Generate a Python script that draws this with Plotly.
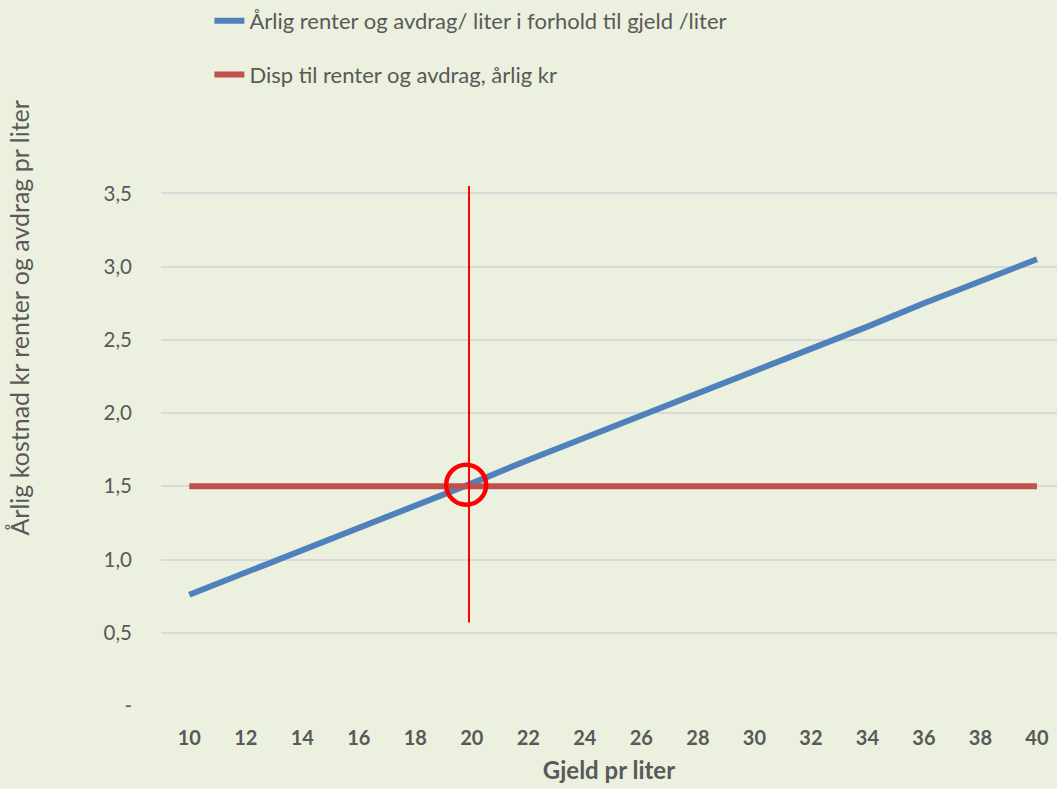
import plotly.graph_objects as go

# ---- data ----
gjeld = [10, 12, 14, 16, 18, 20, 22, 24, 26, 28, 30, 32, 34, 36, 38, 40]
aarlig_renter_avdrag = [0.76, 0.91, 1.07, 1.22, 1.37, 1.52, 1.68, 1.83, 1.98, 2.14,
                        2.29, 2.44, 2.59, 2.75, 2.90, 3.05]
disp_renter_avdrag = [1.5] * len(gjeld)

name_blue = "Årlig renter og avdrag/ liter i forhold til gjeld /liter"
name_red = "Disp til renter og avdrag, årlig kr"

y_tickvals = [0, 0.5, 1.0, 1.5, 2.0, 2.5, 3.0, 3.5]
y_ticktext = ["-", "0,5", "1,0", "1,5", "2,0", "2,5", "3,0", "3,5"]

# highlight (break-even) marks
vline_x = 19.9
vline_y = [0.57, 3.55]
circle_x = 19.8
circle_y = 1.51

BG = "#EBF1DE"
TXT = "#595959"
FONT = "Lato"

fig = go.Figure()
fig.add_trace(go.Scatter(x=gjeld, y=aarlig_renter_avdrag, mode="lines", name=name_blue,
                         line=dict(color="#4F81BD", width=6), legend="legend"))
fig.add_trace(go.Scatter(x=gjeld, y=disp_renter_avdrag, mode="lines", name=name_red,
                         line=dict(color="#C0504D", width=6), legend="legend2"))
fig.add_trace(go.Scatter(x=[vline_x, vline_x], y=vline_y, mode="lines", showlegend=False,
                         line=dict(color="#FF0000", width=2), hoverinfo="skip"))
fig.add_trace(go.Scatter(x=[circle_x], y=[circle_y], mode="markers", showlegend=False,
                         marker=dict(symbol="circle-open", size=40, color="#FF0000",
                                     line=dict(color="#FF0000", width=4.5)),
                         hoverinfo="skip"))

fig.update_layout(
    width=1057, height=789,
    paper_bgcolor=BG, plot_bgcolor=BG,
    margin=dict(l=161, r=0, t=186, b=83),
    font=dict(family=FONT, color=TXT, size=20),
    legend=dict(x=0.054, y=1.0, yref="container", xref="paper", xanchor="left", yanchor="top",
                bgcolor="rgba(0,0,0,0)", font=dict(size=22, color=TXT)),
    legend2=dict(x=0.054, y=0.932, yref="container", xref="paper", xanchor="left", yanchor="top",
                 bgcolor="rgba(0,0,0,0)", font=dict(size=22, color=TXT)),
    xaxis=dict(range=[9.0, 40.71], tickvals=gjeld, ticktext=[str(v) for v in gjeld],
               showgrid=False, zeroline=False, showline=False, ticks="",
               tickfont=dict(family=FONT, size=20, color=TXT, weight="bold"),
               ticklabelstandoff=18,
               title=dict(text="<b>Gjeld pr liter</b>", font=dict(size=24, color=TXT), standoff=14)),
    yaxis=dict(range=[0, 3.55], tickvals=y_tickvals, ticktext=y_ticktext,
               showgrid=True, gridcolor="#D9D9D9", gridwidth=1.5, zeroline=False,
               showline=False, ticks="", ticklabelstandoff=28,
               tickfont=dict(family=FONT, size=20.5, color=TXT)),
    annotations=[dict(text="Årlig kostnad kr renter og avdrag pr liter", textangle=-90,
                      xref="paper", yref="paper", x=-0.158, y=0.746,
                      xanchor="center", yanchor="middle", showarrow=False,
                      font=dict(family=FONT, size=25, color=TXT))],
)

fig.write_html("out.html", config={"displayModeBar": False},
               post_script="document.body.style.margin='0';document.body.style.overflow='hidden';")
